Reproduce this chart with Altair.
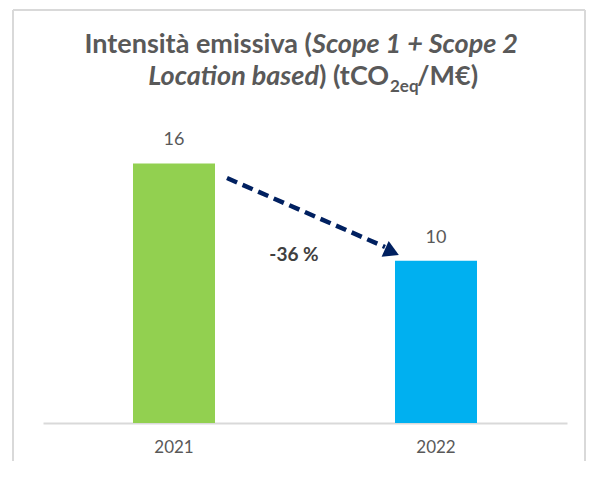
import altair as alt
import pandas as pd

years = ["2021", "2022"]
values = [16, 10]
colors = ["#92D050", "#00B0F0"]
change_label = "-36 %"

arrow_y = [15.1, 10.85]

FONT = "Lato"
GRAY = "#595959"
BORDER = "#D9D9D9"

bars_df = pd.DataFrame({"year": years, "value": values, "color": colors})

xscale = alt.Scale(domain=years, paddingInner=0.687, paddingOuter=0.3435)
yscale = alt.Scale(domain=[0, 18])

base = alt.Chart(bars_df)

bars = base.mark_bar().encode(
    x=alt.X("year:N", scale=xscale, sort=years,
            axis=alt.Axis(title=None, labelAngle=0, labelFontSize=17, labelColor=GRAY,
                          labelFont=FONT, ticks=False, labelPadding=16,
                          domainColor=BORDER, domainWidth=2, grid=False)),
    y=alt.Y("value:Q", scale=yscale, axis=None),
    color=alt.Color("color:N", scale=None),
)

labels = base.mark_text(baseline="bottom", dy=-14, fontSize=18, font=FONT, color=GRAY).encode(
    x=alt.X("year:N", scale=xscale, sort=years),
    y=alt.Y("value:Q", scale=yscale),
    text="value:Q",
)

arrow_df = pd.DataFrame({"x": [years[0]], "x2": [years[1]], "y": [arrow_y[0]], "y2": [arrow_y[1]]})
arrow_line = alt.Chart(arrow_df).mark_rule(
    color="#002060", strokeWidth=4.5, strokeDash=[11, 6], xOffset=53, x2Offset=-51
).encode(
    x=alt.X("x:N", scale=xscale, sort=years),
    x2="x2:N",
    y=alt.Y("y:Q", scale=yscale),
    y2="y2:Q",
)

head_df = pd.DataFrame({"x": [years[1]], "y": [10.55]})
arrow_head = alt.Chart(head_df).mark_point(
    shape="triangle-right", filled=True, opacity=1, color="#002060", size=300, angle=24, xOffset=-44
).encode(
    x=alt.X("x:N", scale=xscale, sort=years),
    y=alt.Y("y:Q", scale=yscale),
)

chg_df = pd.DataFrame({"x": [years[0]], "y": [10.36], "t": [change_label]})
change = alt.Chart(chg_df).mark_text(
    fontSize=19, fontWeight="bold", font=FONT, color="#404040", baseline="middle", xOffset=120
).encode(
    x=alt.X("x:N", scale=xscale, sort=years),
    y=alt.Y("y:Q", scale=yscale),
    text="t:N",
)

title_df = pd.DataFrame({
    "t": ["Intensità emissiva (", "Scope 1 + Scope 2", "Location based", ") (tCO", "2eq", "/M€)"],
})

def seg(i, x, y, align, italic=False, size=27):
    return alt.Chart(title_df.iloc[[i]]).mark_text(
        align=align, baseline="alphabetic", font=FONT, fontSize=size, fontWeight="bold",
        fontStyle="italic" if italic else "normal", color=GRAY
    ).encode(text="t:N", x=alt.value(x), y=alt.value(y))

t1 = seg(0, 269, -78, "right")
t2 = seg(1, 269, -78, "left", italic=True)
t3 = seg(2, 276, -46, "right", italic=True)
t4 = seg(3, 276, -46, "left")
t5 = seg(4, 347, -39, "left", size=17)
t6 = seg(5, 374, -46, "left")

one = pd.DataFrame({"a": [0]})
def edge(x, x2, y, y2):
    return alt.Chart(one).mark_rule(color=BORDER, strokeWidth=2).encode(
        x=alt.value(x), x2=alt.value(x2), y=alt.value(y), y2=alt.value(y2))

frame_top = edge(-30, 542, -121, -121)
frame_left = edge(-30, -30, -121, 345)
frame_right = edge(542, 542, -121, 345)

chart = alt.layer(
    frame_top, frame_left, frame_right, bars, labels, arrow_line, arrow_head, change,
    t1, t2, t3, t4, t5, t6
).properties(
    width=524, height=292,
    autosize=alt.AutoSizeParams(type="none"),
    padding={"left": 35, "top": 123, "right": 22, "bottom": 38},
    background="white",
).configure_view(stroke=None)

chart.save("out.html", embed_options={"renderer": "svg", "actions": False})
